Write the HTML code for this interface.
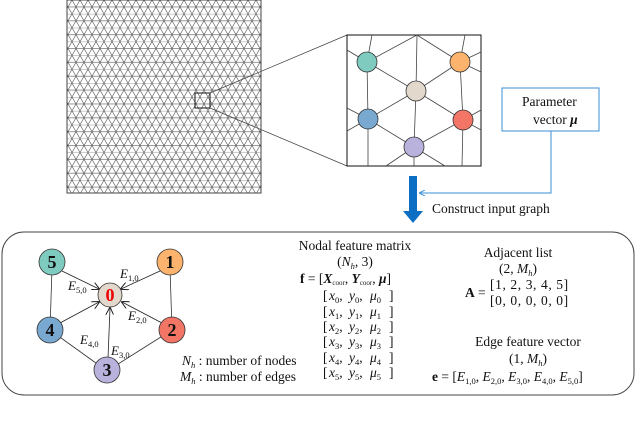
<!DOCTYPE html>
<html><head><meta charset="utf-8"><style>
body{margin:0;background:#fff;width:640px;height:417px;overflow:hidden}
svg text{font-family:"Liberation Serif",serif;fill:#111}
</style></head><body>
<svg width="640" height="417" viewBox="0 0 640 417" xmlns="http://www.w3.org/2000/svg">
<defs>
<pattern id="tri" width="8" height="13.86" patternUnits="userSpaceOnUse">
<g stroke="#555" stroke-width="0.6" fill="none">
<line x1="0" y1="0" x2="8" y2="0"/><line x1="0" y1="6.93" x2="8" y2="6.93"/>
<line x1="0" y1="0" x2="8" y2="13.86"/><line x1="8" y1="0" x2="0" y2="13.86"/>
<line x1="4" y1="-6.93" x2="12" y2="6.93"/><line x1="-4" y1="6.93" x2="4" y2="20.79"/>
<line x1="4" y1="-6.93" x2="-4" y2="6.93"/><line x1="12" y1="6.93" x2="4" y2="20.79"/>
</g></pattern>
<marker id="ah" markerWidth="8" markerHeight="8" refX="7" refY="4" orient="auto" markerUnits="userSpaceOnUse"><path d="M0,0 L8,4 L0,8" fill="none" stroke="#222" stroke-width="1"/></marker>
<marker id="bh" markerWidth="6" markerHeight="6" refX="5" refY="3" orient="auto" markerUnits="userSpaceOnUse"><path d="M0,0 L6,3 L0,6" fill="none" stroke="#3a8fd6" stroke-width="1"/></marker>
</defs>
<rect x="67" y="0" width="194" height="193" fill="#fff"/>
<rect x="67" y="0" width="194" height="193" fill="url(#tri)"/>
<rect x="67" y="0" width="194" height="193" fill="none" stroke="#444" stroke-width="1"/>
<rect x="195" y="93" width="15" height="15" fill="none" stroke="#111" stroke-width="1"/>
<line x1="210" y1="93" x2="347" y2="35" stroke="#444" stroke-width="0.8"/>
<line x1="210" y1="108" x2="347" y2="166" stroke="#444" stroke-width="0.8"/>
<rect x="347" y="35" width="134" height="131" fill="#fff" stroke="#111" stroke-width="1"/>
<g stroke="#444" stroke-width="0.8" fill="none">
<line x1="367" y1="62" x2="416" y2="91"/><line x1="460" y1="62" x2="416" y2="91"/>
<line x1="368" y1="119" x2="416" y2="91"/><line x1="463" y1="120" x2="416" y2="91"/>
<line x1="414" y1="147" x2="416" y2="91"/><line x1="368" y1="119" x2="414" y2="147"/>
<line x1="463" y1="120" x2="414" y2="147"/>
<line x1="367" y1="62" x2="368" y2="119"/><line x1="460" y1="62" x2="463" y2="120"/>
<line x1="416" y1="91" x2="417" y2="35"/><line x1="367" y1="62" x2="372" y2="35"/>
<line x1="367" y1="62" x2="417" y2="35"/><line x1="460" y1="62" x2="417" y2="35"/>
<line x1="460" y1="62" x2="465" y2="35"/><line x1="367" y1="62" x2="347" y2="50"/>
<line x1="368" y1="119" x2="347" y2="108"/><line x1="368" y1="119" x2="347" y2="131"/>
<line x1="460" y1="62" x2="481" y2="52"/><line x1="460" y1="62" x2="481" y2="72"/>
<line x1="463" y1="120" x2="481" y2="110"/><line x1="463" y1="120" x2="481" y2="130"/>
<line x1="368" y1="119" x2="368" y2="166"/><line x1="463" y1="120" x2="462" y2="166"/>
<line x1="414" y1="147" x2="414" y2="166"/><line x1="414" y1="147" x2="386" y2="166"/>
<line x1="414" y1="147" x2="445" y2="166"/>
</g>
<g stroke="#333" stroke-width="0.8">
<circle cx="367" cy="62" r="10" fill="#7fcbc0"/><circle cx="460" cy="62" r="10" fill="#fbb36e"/>
<circle cx="416" cy="91" r="10" fill="#e3d8cc"/><circle cx="368" cy="119" r="10" fill="#79a9d1"/>
<circle cx="463" cy="120" r="10" fill="#f37566"/><circle cx="414" cy="147" r="10" fill="#b9b2dd"/>
</g>
<rect x="502" y="88" width="97" height="43" fill="#fff" stroke="#3a8fd6" stroke-width="1"/>
<text x="522" y="106" font-size="13.5">Parameter</text>
<text x="533" y="124" font-size="13.5">vector <tspan font-weight="bold" font-style="italic">μ</tspan></text>
<polyline points="551,131 551,193 420,193" fill="none" stroke="#3a8fd6" stroke-width="1" marker-end="url(#bh)"/>
<rect x="409" y="176" width="8" height="36" fill="#0d6fc4"/>
<polygon points="403,211 423,211 413,223" fill="#0d6fc4"/>
<text x="432" y="213" font-size="13.5">Construct input graph</text>
<rect x="2" y="232" width="632" height="163" rx="22" fill="none" stroke="#444" stroke-width="1"/>
<g stroke="#333" stroke-width="0.8" fill="none">
<line x1="52" y1="268" x2="50" y2="330"/><line x1="170" y1="268" x2="172" y2="330"/>
<line x1="50" y1="330" x2="107" y2="371"/><line x1="172" y1="330" x2="107" y2="371"/>
</g>
<g stroke="#222" stroke-width="0.8" marker-end="url(#ah)">
<line x1="62" y1="271" x2="99" y2="289"/>
<line x1="160" y1="271" x2="121" y2="289"/>
<line x1="60" y1="323" x2="99" y2="302"/>
<line x1="162" y1="323" x2="122" y2="302"/>
<line x1="108" y1="358" x2="110" y2="308"/>
</g>
<g stroke="#333" stroke-width="0.8">
<circle cx="52" cy="262" r="13" fill="#7fcbc0"/><circle cx="170" cy="262" r="13" fill="#fbb36e"/>
<circle cx="110" cy="295" r="12" fill="#e3d8cc"/><circle cx="50" cy="330" r="13" fill="#79a9d1"/>
<circle cx="172" cy="330" r="13" fill="#f37566"/><circle cx="107" cy="370" r="13" fill="#b9b2dd"/>
</g>
<g font-size="18" font-weight="bold" text-anchor="middle">
<text x="52" y="268">5</text><text x="170" y="268">1</text>
<text x="110" y="301" style="fill:#e00">0</text><text x="50" y="336">4</text>
<text x="172" y="336">2</text><text x="107" y="376">3</text>
</g>
<g font-size="13" font-style="italic">
<text x="120" y="278">E<tspan font-size="8.5" dy="3" font-style="normal">1,0</tspan></text>
<text x="68" y="290">E<tspan font-size="8.5" dy="3" font-style="normal">5,0</tspan></text>
<text x="128" y="320">E<tspan font-size="8.5" dy="3" font-style="normal">2,0</tspan></text>
<text x="80" y="344">E<tspan font-size="8.5" dy="3" font-style="normal">4,0</tspan></text>
<text x="111" y="355">E<tspan font-size="8.5" dy="3" font-style="normal">3,0</tspan></text>
</g>
<g font-size="13.5">
<text x="355" y="250" text-anchor="middle">Nodal feature matrix</text>
<text x="355" y="266" text-anchor="middle">(<tspan font-style="italic">N<tspan font-size="8.5" dy="3">h</tspan></tspan><tspan dy="-3">, 3)</tspan></text>
<text x="300" y="283"><tspan font-weight="bold">f</tspan> = [<tspan font-weight="bold" font-style="italic">X</tspan><tspan font-size="7" dy="2">coor</tspan><tspan dy="-2">, </tspan><tspan font-weight="bold" font-style="italic">Y</tspan><tspan font-size="7" dy="2">coor</tspan><tspan dy="-2">, </tspan><tspan font-weight="bold" font-style="italic">μ</tspan>]</text>
<g font-style="italic">
<text x="323" y="300"><tspan font-style="normal">[</tspan><tspan x="329">x</tspan><tspan font-size="8.5" dy="3" font-style="normal">0</tspan><tspan dy="-3" font-style="normal">,</tspan><tspan x="349">y</tspan><tspan font-size="8.5" dy="3" font-style="normal">0</tspan><tspan dy="-3" font-style="normal">,</tspan><tspan x="370">μ</tspan><tspan font-size="8.5" dy="3" font-style="normal">0</tspan><tspan dy="-3" x="389" font-style="normal">]</tspan></text>
<text x="323" y="316"><tspan font-style="normal">[</tspan><tspan x="329">x</tspan><tspan font-size="8.5" dy="3" font-style="normal">1</tspan><tspan dy="-3" font-style="normal">,</tspan><tspan x="349">y</tspan><tspan font-size="8.5" dy="3" font-style="normal">1</tspan><tspan dy="-3" font-style="normal">,</tspan><tspan x="370">μ</tspan><tspan font-size="8.5" dy="3" font-style="normal">1</tspan><tspan dy="-3" x="389" font-style="normal">]</tspan></text>
<text x="323" y="331"><tspan font-style="normal">[</tspan><tspan x="329">x</tspan><tspan font-size="8.5" dy="3" font-style="normal">2</tspan><tspan dy="-3" font-style="normal">,</tspan><tspan x="349">y</tspan><tspan font-size="8.5" dy="3" font-style="normal">2</tspan><tspan dy="-3" font-style="normal">,</tspan><tspan x="370">μ</tspan><tspan font-size="8.5" dy="3" font-style="normal">2</tspan><tspan dy="-3" x="389" font-style="normal">]</tspan></text>
<text x="323" y="346"><tspan font-style="normal">[</tspan><tspan x="329">x</tspan><tspan font-size="8.5" dy="3" font-style="normal">3</tspan><tspan dy="-3" font-style="normal">,</tspan><tspan x="349">y</tspan><tspan font-size="8.5" dy="3" font-style="normal">3</tspan><tspan dy="-3" font-style="normal">,</tspan><tspan x="370">μ</tspan><tspan font-size="8.5" dy="3" font-style="normal">3</tspan><tspan dy="-3" x="389" font-style="normal">]</tspan></text>
<text x="323" y="362"><tspan font-style="normal">[</tspan><tspan x="329">x</tspan><tspan font-size="8.5" dy="3" font-style="normal">4</tspan><tspan dy="-3" font-style="normal">,</tspan><tspan x="349">y</tspan><tspan font-size="8.5" dy="3" font-style="normal">4</tspan><tspan dy="-3" font-style="normal">,</tspan><tspan x="370">μ</tspan><tspan font-size="8.5" dy="3" font-style="normal">4</tspan><tspan dy="-3" x="389" font-style="normal">]</tspan></text>
<text x="323" y="377"><tspan font-style="normal">[</tspan><tspan x="329">x</tspan><tspan font-size="8.5" dy="3" font-style="normal">5</tspan><tspan dy="-3" font-style="normal">,</tspan><tspan x="349">y</tspan><tspan font-size="8.5" dy="3" font-style="normal">5</tspan><tspan dy="-3" font-style="normal">,</tspan><tspan x="370">μ</tspan><tspan font-size="8.5" dy="3" font-style="normal">5</tspan><tspan dy="-3" x="389" font-style="normal">]</tspan></text>
</g>
<text x="182" y="365"><tspan font-style="italic">N</tspan><tspan font-size="8.5" dy="3" font-style="italic">h</tspan><tspan dy="-3"> : number of nodes</tspan></text>
<text x="180" y="381"><tspan font-style="italic">M</tspan><tspan font-size="8.5" dy="3" font-style="italic">h</tspan><tspan dy="-3"> : number of edges</tspan></text>
<text x="518" y="257" text-anchor="middle">Adjacent list</text>
<text x="518" y="273" text-anchor="middle">(2, <tspan font-style="italic">M</tspan><tspan font-size="8.5" dy="3" font-style="italic">h</tspan><tspan dy="-3">)</tspan></text>
<text x="465" y="297" font-weight="bold">A</text><text x="478" y="297">=</text>
<text x="490" y="289" letter-spacing="0.6">[1, 2, 3, 4, 5]</text>
<text x="490" y="305" letter-spacing="0.6">[0, 0, 0, 0, 0]</text>
<text x="528" y="346" text-anchor="middle">Edge feature vector</text>
<text x="528" y="363" text-anchor="middle">(1, <tspan font-style="italic">M</tspan><tspan font-size="8.5" dy="3" font-style="italic">h</tspan><tspan dy="-3">)</tspan></text>
<text x="432" y="381"><tspan font-weight="bold">e</tspan> = [<tspan font-style="italic">E</tspan><tspan font-size="8.5" dy="3">1,0</tspan><tspan dy="-3">,  </tspan><tspan font-style="italic">E</tspan><tspan font-size="8.5" dy="3">2,0</tspan><tspan dy="-3">,  </tspan><tspan font-style="italic">E</tspan><tspan font-size="8.5" dy="3">3,0</tspan><tspan dy="-3">,  </tspan><tspan font-style="italic">E</tspan><tspan font-size="8.5" dy="3">4,0</tspan><tspan dy="-3">,  </tspan><tspan font-style="italic">E</tspan><tspan font-size="8.5" dy="3">5,0</tspan><tspan dy="-3">]</tspan></text>
</g>
</svg>
</body></html>
